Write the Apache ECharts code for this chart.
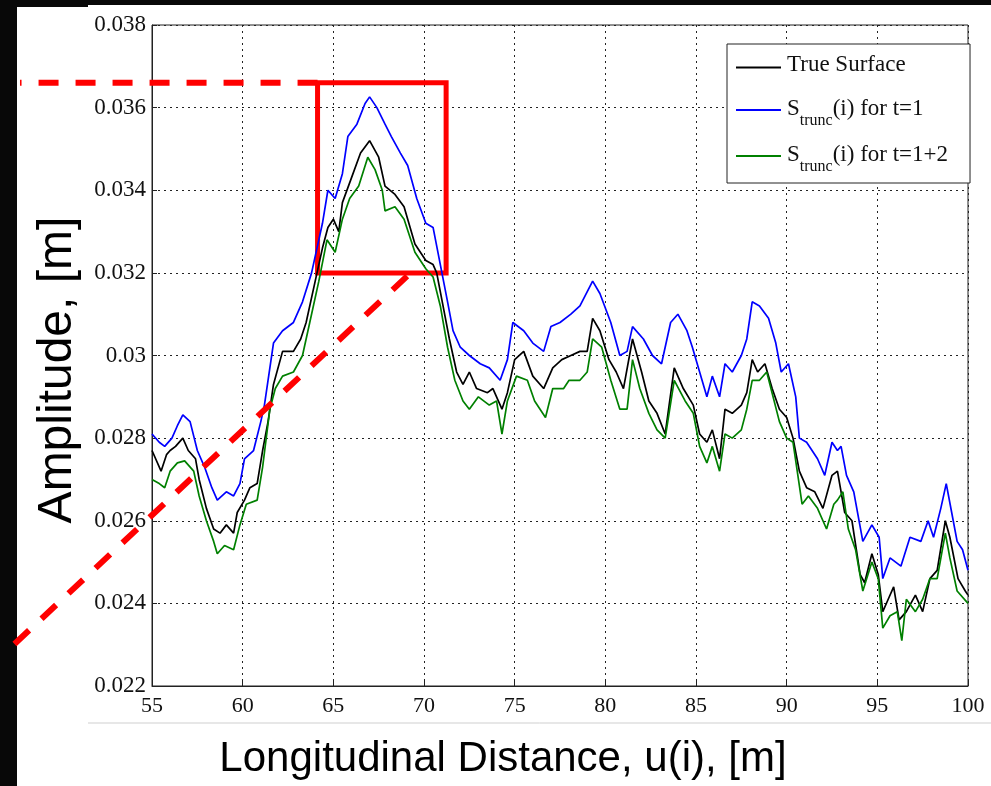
<!DOCTYPE html>
<html lang="en">
<head>
  <meta charset="UTF-8">
  <title>Amplitude vs Longitudinal Distance</title>
  <script src="https://cdn.jsdelivr.net/npm/echarts@6/dist/echarts.min.js"></script>
  <style>
    html, body { margin: 0; padding: 0; background: #fff; }
    #main { width: 991px; height: 786px; }
  </style>
</head>
<body>
  <div id="main"></div>
  <script>
    // True Surface
    const trueU = [55, 55.5, 55.8, 56, 56.3, 56.7, 57, 57.4, 57.6, 58, 58.4, 58.75, 59.1, 59.5, 59.7, 60.1, 60.4, 60.8, 61.1, 61.4, 61.7, 62.2, 62.8, 63.2, 63.5, 64, 64.4, 64.7, 65, 65.3, 65.5, 66, 66.5, 67, 67.5, 67.85, 68.4, 68.9, 69.5, 70.1, 70.5, 70.7, 71.05, 71.4, 71.8, 72.15, 72.5, 72.9, 73.5, 73.8, 74.3, 74.6, 75, 75.5, 76, 76.6, 77.1, 77.6, 78.1, 78.6, 79, 79.3, 79.7, 80.2, 80.6, 81, 81.5, 82, 82.4, 82.85, 83.3, 83.8, 84.3, 84.85, 85.2, 85.6, 85.9, 86.3, 86.6, 87, 87.5, 87.8, 88.1, 88.4, 88.8, 89.2, 89.6, 90, 90.35, 90.7, 91.1, 91.55, 92, 92.5, 92.8, 93.2, 93.6, 94.05, 94.3, 94.7, 95.05, 95.3, 95.6, 95.9, 96.2, 96.6, 97.1, 97.5, 97.9, 98.3, 98.75, 99, 99.45, 99.85, 100];
    const trueV = [0.0277, 0.0272, 0.0276, 0.0277, 0.0278, 0.0280, 0.0277, 0.0275, 0.0270, 0.0263, 0.0258, 0.0257, 0.0259, 0.0257, 0.0262, 0.0265, 0.0268, 0.0269, 0.0277, 0.0284, 0.0293, 0.0301, 0.0301, 0.0304, 0.0308, 0.0318, 0.0326, 0.0331, 0.0333, 0.0330, 0.0337, 0.0343, 0.0349, 0.0352, 0.0348, 0.0341, 0.0339, 0.0336, 0.0327, 0.0323, 0.0322, 0.0320, 0.0312, 0.0304, 0.0296, 0.0293, 0.0296, 0.0292, 0.0291, 0.0292, 0.0287, 0.0291, 0.0299, 0.0301, 0.0295, 0.0292, 0.0297, 0.0299, 0.0300, 0.0301, 0.0301, 0.0309, 0.0306, 0.0299, 0.0296, 0.0292, 0.0304, 0.0296, 0.0289, 0.0286, 0.0281, 0.0297, 0.0292, 0.0288, 0.0281, 0.0279, 0.0282, 0.0275, 0.0287, 0.0286, 0.0288, 0.0291, 0.0299, 0.0296, 0.0298, 0.0292, 0.0287, 0.0285, 0.0280, 0.0272, 0.0268, 0.0267, 0.0263, 0.0271, 0.0272, 0.0262, 0.0260, 0.0247, 0.0245, 0.0252, 0.0247, 0.0238, 0.0241, 0.0244, 0.0236, 0.0238, 0.0242, 0.0238, 0.0246, 0.0248, 0.0260, 0.0256, 0.0246, 0.0243, 0.0242];

    // S_trunc(i) for t=1
    const t1U = [55, 55.4, 55.7, 56.1, 56.4, 56.7, 57.1, 57.5, 57.9, 58.3, 58.6, 59.1, 59.5, 59.85, 60.1, 60.6, 61, 61.2, 61.5, 61.7, 62.2, 62.8, 63.3, 63.8, 64.4, 64.7, 65.1, 65.5, 65.8, 66.3, 66.75, 67, 67.4, 67.85, 68.2, 68.7, 69.1, 69.6, 70.1, 70.5, 70.9, 71.3, 71.6, 72, 72.5, 73.1, 73.6, 74.2, 74.6, 74.9, 75.5, 76, 76.6, 77, 77.5, 78.1, 78.6, 79.3, 79.7, 80.3, 80.8, 81.2, 81.5, 82.1, 82.6, 83.1, 83.6, 84, 84.5, 84.8, 85.2, 85.6, 85.9, 86.3, 86.6, 87, 87.5, 87.8, 88.1, 88.5, 89, 89.4, 89.7, 90.1, 90.5, 90.7, 91.1, 91.7, 92.1, 92.5, 92.8, 93, 93.3, 93.7, 94.2, 94.7, 95.1, 95.3, 95.7, 96.3, 96.8, 97.4, 97.8, 98.1, 98.5, 98.8, 99.1, 99.4, 99.7, 100];
    const t1V = [0.0281, 0.0279, 0.0278, 0.0280, 0.0283, 0.02856, 0.0284, 0.0277, 0.0273, 0.0268, 0.0265, 0.0267, 0.0266, 0.0269, 0.0275, 0.0277, 0.0284, 0.0288, 0.0297, 0.0303, 0.0306, 0.0308, 0.0313, 0.0320, 0.0332, 0.0340, 0.0338, 0.0344, 0.0353, 0.0356, 0.0361, 0.03626, 0.0360, 0.0356, 0.0353, 0.0349, 0.0346, 0.0338, 0.0332, 0.0331, 0.0322, 0.0313, 0.0306, 0.0302, 0.0300, 0.0298, 0.0297, 0.0294, 0.0299, 0.0308, 0.0306, 0.0303, 0.0301, 0.0307, 0.0308, 0.0310, 0.0312, 0.0318, 0.0315, 0.0308, 0.0300, 0.0301, 0.0307, 0.0304, 0.0300, 0.0298, 0.0308, 0.0310, 0.0306, 0.0302, 0.0296, 0.0290, 0.0295, 0.0290, 0.0298, 0.0296, 0.0300, 0.0304, 0.0313, 0.0312, 0.0309, 0.0303, 0.0296, 0.0298, 0.0290, 0.0280, 0.0279, 0.0275, 0.0271, 0.0279, 0.0277, 0.0278, 0.0271, 0.0267, 0.0255, 0.0259, 0.0256, 0.0246, 0.0251, 0.0249, 0.0256, 0.0255, 0.0260, 0.0256, 0.0263, 0.0269, 0.0262, 0.0255, 0.0253, 0.0248];

    // S_trunc(i) for t=1+2
    const t12U = [55, 55.4, 55.7, 56, 56.4, 56.8, 57.3, 57.6, 58, 58.4, 58.6, 59, 59.5, 59.85, 60.2, 60.8, 61.1, 61.5, 61.8, 62.2, 62.8, 63.3, 63.7, 64.2, 64.65, 65.1, 65.5, 65.9, 66.4, 66.9, 67.3, 67.7, 67.85, 68.4, 68.9, 69.5, 70.1, 70.5, 70.9, 71.3, 71.7, 72.15, 72.5, 73, 73.6, 74, 74.3, 74.6, 75.1, 75.7, 76.1, 76.7, 77.1, 77.7, 78, 78.6, 79, 79.3, 79.8, 80.3, 80.8, 81.2, 81.5, 81.9, 82.4, 82.85, 83.3, 83.8, 84.4, 84.85, 85.2, 85.6, 85.9, 86.3, 86.6, 87, 87.5, 87.8, 88.1, 88.5, 88.9, 89.25, 89.6, 90, 90.35, 90.85, 91.2, 91.7, 92.2, 92.6, 92.8, 93.1, 93.4, 93.8, 94.2, 94.7, 95.05, 95.3, 95.7, 96.1, 96.35, 96.6, 97.1, 97.5, 97.9, 98.3, 98.75, 99, 99.4, 100];
    const t12V = [0.0270, 0.0269, 0.0268, 0.0272, 0.0274, 0.02745, 0.0272, 0.0266, 0.0260, 0.0255, 0.0252, 0.0254, 0.0253, 0.0259, 0.0264, 0.0265, 0.0273, 0.0287, 0.0292, 0.0295, 0.0296, 0.0300, 0.0308, 0.0318, 0.0328, 0.0325, 0.0333, 0.0338, 0.0341, 0.0348, 0.0345, 0.0340, 0.0335, 0.0336, 0.0333, 0.0325, 0.0321, 0.0319, 0.0312, 0.0302, 0.0294, 0.0289, 0.0287, 0.0290, 0.0288, 0.0289, 0.0281, 0.0289, 0.0295, 0.0294, 0.0289, 0.0285, 0.0292, 0.0292, 0.0294, 0.0294, 0.0296, 0.0304, 0.0302, 0.0294, 0.0287, 0.0287, 0.0299, 0.0292, 0.0286, 0.0282, 0.0280, 0.0294, 0.0289, 0.0286, 0.0278, 0.0274, 0.0278, 0.0272, 0.0281, 0.0280, 0.0282, 0.0287, 0.0294, 0.0294, 0.0296, 0.0290, 0.0284, 0.0280, 0.0279, 0.0264, 0.0266, 0.0263, 0.0258, 0.0264, 0.0265, 0.0267, 0.0258, 0.0253, 0.0243, 0.0250, 0.0246, 0.0234, 0.0237, 0.0238, 0.0231, 0.0241, 0.0238, 0.0241, 0.0246, 0.0246, 0.0257, 0.0251, 0.0243, 0.0240];

    // red annotation (data coords): zoom box and leader lines
    const boxU = [64.13, 71.22];
    const boxV = [0.0366, 0.0320];
    const leaderFrom = [69.07, 0.03192];
    const leaderTo = [47.06, 0.02287];
    const hLineFromU = 47.72;

    const pair = (us, vs) => us.map((u, i) => [u, vs[i]]);

    const serif = 'Liberation Serif';
    const sans = 'Liberation Sans';

    const chart = echarts.init(document.getElementById('main'));

    const option = {
      backgroundColor: '#fff',
      animation: false,
      grid: {
        left: 152, right: 23, top: 25, bottom: 100,
        show: true, borderColor: '#222', borderWidth: 1, backgroundColor: '#fff'
      },
      legend: {
        orient: 'vertical',
        left: 727, top: 44,
        padding: [8, 22, 8, 9],
        itemGap: 14,
        itemWidth: 45, itemHeight: 2,
        icon: 'rect',
        backgroundColor: '#fff',
        borderColor: '#222', borderWidth: 1,
        data: ['True Surface', 'S1', 'S12'],
        formatter: function (name) {
          if (name === 'S1') return '{a|S}{b|trunc}{a|(i) for t=1}';
          if (name === 'S12') return '{a|S}{b|trunc}{a|(i) for t=1+2}';
          return '{c|' + name + '}';
        },
        textStyle: {
          padding: [0, 0, 0, 1],
          rich: {
            a: { fontFamily: serif, fontSize: 23, color: '#111', lineHeight: 26, verticalAlign: 'top' },
            b: { fontFamily: serif, fontSize: 16, color: '#111', lineHeight: 18, padding: [16, 0, 0, 0], verticalAlign: 'top' },
            c: { fontFamily: serif, fontSize: 23, color: '#111', lineHeight: 26, padding: [1, 0, 7, 0] }
          }
        }
      },
      xAxis: {
        type: 'value',
        min: 55, max: 100, interval: 5,
        axisLine: { show: true, lineStyle: { color: '#222', width: 1 } },
        axisTick: { show: true, inside: true, length: 5, lineStyle: { color: '#222' } },
        axisLabel: { fontFamily: serif, fontSize: 22, color: '#111', margin: 9 },
        splitLine: { show: true, lineStyle: { color: '#222', type: [2, 4], width: 1 } }
      },
      yAxis: {
        type: 'value',
        min: 0.022, max: 0.038, interval: 0.002,
        axisLine: { show: true, lineStyle: { color: '#222', width: 1 } },
        axisTick: { show: true, inside: true, length: 5, lineStyle: { color: '#222' } },
        axisLabel: {
          fontFamily: serif, fontSize: 23, color: '#111', margin: 6,
          formatter: v => String(parseFloat(v.toFixed(3)))
        },
        splitLine: { show: true, lineStyle: { color: '#222', type: [2, 4], width: 1 } }
      },
      series: [
        {
          name: 'True Surface', type: 'line', showSymbol: false,
          lineStyle: { color: '#000', width: 1.7 }, itemStyle: { color: '#000' },
          data: pair(trueU, trueV)
        },
        {
          name: 'S1', type: 'line', showSymbol: false,
          lineStyle: { color: '#0000ff', width: 1.7 }, itemStyle: { color: '#0000ff' },
          data: pair(t1U, t1V)
        },
        {
          name: 'S12', type: 'line', showSymbol: false,
          lineStyle: { color: '#008000', width: 1.7 }, itemStyle: { color: '#008000' },
          data: pair(t12U, t12V),
          markArea: {
            silent: true,
            itemStyle: { color: 'rgba(0,0,0,0)', borderColor: '#ff0000', borderWidth: 5 },
            data: [[{ coord: [boxU[0], boxV[0]] }, { coord: [boxU[1], boxV[1]] }]]
          }
        }
      ]
    };

    chart.setOption(option);

    // leader lines, axis titles and frame pieces
    const toPx = p => chart.convertToPixel({ gridIndex: 0 }, p);
    const boxTL = toPx([boxU[0], boxV[0]]);
    const hFrom = toPx([hLineFromU, boxV[0]]);
    const dFrom = toPx(leaderFrom);
    const dTo = toPx(leaderTo);
    const redDash = { stroke: '#ff0000', lineWidth: 6, lineDash: [20, 17] };

    chart.setOption({
      graphic: [
        { type: 'rect', left: 0, top: 0, z: 100, shape: { width: 17, height: 786 }, style: { fill: '#080808' } },
        { type: 'rect', left: 0, top: 0, z: 100, shape: { width: 991, height: 5 }, style: { fill: '#080808' } },
        { type: 'rect', left: 0, top: 0, z: 100, shape: { width: 88, height: 7 }, style: { fill: '#080808' } },
        { type: 'line', z: 99, shape: { x1: 88, y1: 723, x2: 991, y2: 723 }, style: { stroke: '#cfcfcf', lineWidth: 1 } },
        {
          type: 'text', x: 503, y: 738, z: 100,
          style: { text: 'Longitudinal Distance, u(i), [m]', font: '42px "Liberation Sans"', fill: '#000', align: 'center', verticalAlign: 'top' }
        },
        {
          type: 'text', x: 58, y: 370, rotation: Math.PI / 2, z: 100,
          style: { text: 'Amplitude, [m]', font: '48px "Liberation Sans"', fill: '#000', align: 'center', verticalAlign: 'middle' }
        },
        { type: 'line', z: 101, shape: { x1: boxTL[0], y1: boxTL[1], x2: hFrom[0], y2: hFrom[1] }, style: redDash },
        { type: 'line', z: 101, shape: { x1: dFrom[0], y1: dFrom[1], x2: dTo[0], y2: dTo[1] }, style: redDash }
      ]
    });
  </script>
</body>
</html>
